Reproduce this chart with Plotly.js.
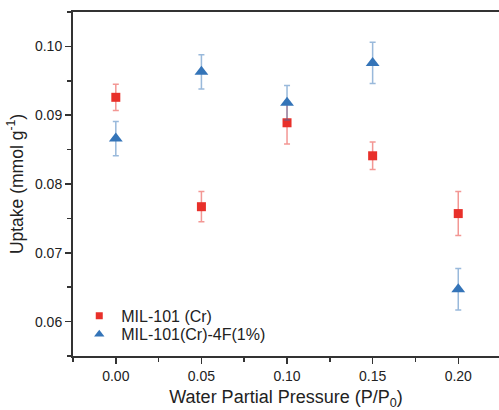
<!DOCTYPE html>
<html><head><meta charset="utf-8">
<script src="https://cdn.plot.ly/plotly-3.0.1.min.js"></script>
<style>body{margin:0;padding:0;background:#fff}#chart{width:499px;height:410px}</style>
</head><body><div id="chart"></div>
<script>
const pressure = [0.00, 0.05, 0.10, 0.15, 0.20];
const mil101 = [0.0926, 0.0767, 0.0889, 0.0841, 0.0757];
const mil101Err = [0.0019, 0.0022, 0.0031, 0.0020, 0.0032];
const mil101F = [0.0866, 0.0963, 0.0918, 0.0976, 0.0647];
const mil101FErr = [0.0025, 0.0025, 0.0025, 0.0030, 0.0030];
const seriesNames = ['MIL-101 (Cr)', 'MIL-101(Cr)-4F(1%)'];
const xTicks = [0.00, 0.05, 0.10, 0.15, 0.20];
const xTickText = ['0.00', '0.05', '0.10', '0.15', '0.20'];
const yTicks = [0.06, 0.07, 0.08, 0.09, 0.10];
const yTickText = ['0.06', '0.07', '0.08', '0.09', '0.10'];

const red = '#e8302a', blue = '#3474b8';
const fam = 'Liberation Sans, Arial, sans-serif';
const traces = [
  {x: pressure, y: mil101, name: seriesNames[0], type: 'scatter', mode: 'markers', showlegend: false,
   marker: {symbol: 'square', size: 9, color: red},
   error_y: {type: 'data', array: mil101Err, visible: true, color: 'rgba(232,48,42,0.5)', thickness: 1.5, width: 3}},
  {x: pressure, y: mil101F, name: seriesNames[1], type: 'scatter', mode: 'markers', showlegend: false,
   marker: {symbol: 'triangle-up', size: 12, color: blue},
   error_y: {type: 'data', array: mil101FErr, visible: true, color: 'rgba(52,116,184,0.5)', thickness: 1.5, width: 3}},
  // legend entries (smaller symbols as in the reference)
  {x: [null], y: [null], name: seriesNames[0], type: 'scatter', mode: 'markers', legend: 'legend',
   marker: {symbol: 'square', size: 7, color: red}},
  {x: [null], y: [null], name: seriesNames[1], type: 'scatter', mode: 'markers', legend: 'legend2',
   marker: {symbol: 'triangle-up', size: 9, color: blue}}
];
const legBase = {xanchor: 'left', yanchor: 'middle', bgcolor: 'rgba(0,0,0,0)', borderwidth: 0,
  itemwidth: 34, font: {size: 16, family: fam, color: '#222'}};
const layout = {
  width: 499, height: 410,
  margin: {l: 73, r: 0, t: 12, b: 54},
  paper_bgcolor: '#fff', plot_bgcolor: '#fff',
  font: {family: fam, color: '#222'},
  showlegend: true,
  legend: Object.assign({}, legBase, {x: 0.01, y: 0.117}),
  legend2: Object.assign({}, legBase, {x: 0.01, y: 0.063}),
  xaxis: {
    range: [-0.025, 0.2238], tickvals: xTicks, ticktext: xTickText,
    ticks: 'outside', ticklen: 6, tickwidth: 1.5, tickcolor: '#333',
    minor: {dtick: 0.025, ticks: 'outside', ticklen: 4, tickwidth: 1.5, tickcolor: '#333'},
    showline: true, linecolor: '#333', linewidth: 2, mirror: true,
    showgrid: false, zeroline: false,
    tickfont: {size: 14, family: fam, color: '#222'},
    title: {text: 'Water Partial Pressure (P/P<sub>0</sub>)', font: {size: 18, family: fam, color: '#222'}, standoff: 9}
  },
  yaxis: {
    range: [0.055, 0.105], tickvals: yTicks, ticktext: yTickText,
    ticks: 'outside', ticklen: 6, tickwidth: 1.5, tickcolor: '#333',
    minor: {dtick: 0.005, ticks: 'outside', ticklen: 4, tickwidth: 1.5, tickcolor: '#333'},
    showline: true, linecolor: '#333', linewidth: 2, mirror: false,
    showgrid: false, zeroline: false,
    tickfont: {size: 14, family: fam, color: '#222'},
    title: {text: 'Uptake (mmol g<sup>-1</sup>)', font: {size: 17.5, family: fam, color: '#222'}, standoff: 7}
  }
};
Plotly.newPlot('chart', traces, layout, {displayModeBar: false, staticPlot: true});
</script></body></html>
